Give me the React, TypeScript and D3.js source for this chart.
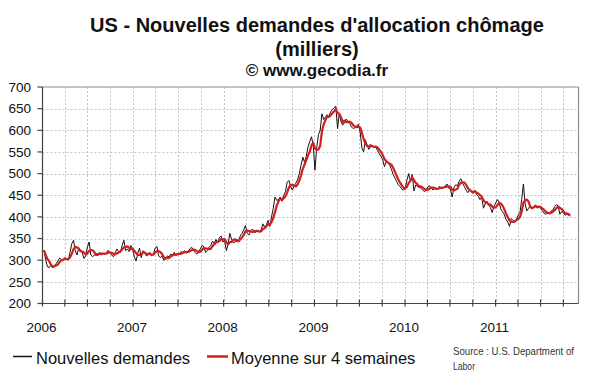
import React from 'react';
import * as d3 from 'd3';

// Weekly initial jobless claims (thousands), week ending Saturdays from 2006-01-07
const claims2006 = [323,300,285,283,290,282,288,292,298,305,302,300,306,303,300,318,338,346,322,312,328,322,318,304,310,330,342,312,308,312,316,314,318,312,316,314,318,323,316,312,308,318,326,320,318,334,346,322,326,320,334,326];
const claims2007 = [308,298,316,328,306,322,316,310,312,318,310,314,328,332,310,306,310,300,302,310,308,314,312,318,310,316,314,320,318,322,316,320,326,330,322,318,314,320,326,334,332,318,322,330,334,344,338,348,340,352,356,342];
const claims2008 = [345,322,338,362,348,340,342,348,345,356,362,370,380,362,358,368,372,366,364,368,366,370,384,376,382,392,378,400,420,446,438,440,446,436,450,458,480,484,470,462,472,478,486,500,520,538,526,540,562,574,585,565];
const claims2009 = [508,560,590,600,638,625,630,636,632,642,648,652,656,604,640,620,612,618,626,620,616,608,604,606,610,614,596,560,550,578,566,556,562,566,562,560,554,546,540,532,516,528,526,520,510,498,490,482,474,470,464,462];
const claims2010 = [466,486,500,482,498,460,474,470,472,466,462,458,462,470,472,466,462,466,464,468,470,466,468,472,476,466,464,446,468,474,472,482,488,478,470,462,456,462,458,454,462,452,448,440,446,420,430,436,428,422,410,424];
const claims2011 = [432,440,434,418,412,406,394,388,378,396,392,390,394,404,410,440,476,430,414,420,426,420,424,428,420,424,418,414,408,406,410,408,414,416,424,428,426,406,412,410,404,406,404,402];

const yTicks = [200, 250, 300, 350, 400, 450, 500, 550, 600, 650, 700];
const yearLabels = ['2006', '2007', '2008', '2009', '2010', '2011'];
const seriesNames = ['Nouvelles demandes', 'Moyenne sur 4 semaines'];
const titleLines = ["US - Nouvelles demandes d'allocation chômage", '(milliers)', '© www.gecodia.fr'];
const sourceLines = ['Source : U.S. Department of', 'Labor'];

type Pt = { date: Date; v: number };

export default function App() {
  const W = 600, H = 372;
  const left = 42.5, right = 578.5, top = 87, bottom = 303.5;
  const x = d3.scaleTime().domain([new Date(2006, 0, 1), new Date(2011, 11, 1)]).range([left, right]);
  const y = d3.scaleLinear().domain([200, 700]).range([bottom, top]);

  const values = ([] as number[]).concat(claims2006, claims2007, claims2008, claims2009, claims2010, claims2011);
  const start = new Date(2006, 0, 7);
  const weekly: Pt[] = values.map((v, i) => ({ date: d3.timeDay.offset(start, 7 * i), v }));
  const avg: Pt[] = weekly.map((d, i) => ({ date: d.date, v: d3.mean(values.slice(Math.max(0, i - 3), i + 1)) as number }));

  const line = d3.line<Pt>().x(d => x(d.date)).y(d => y(d.v));
  const quarters = x.ticks(d3.timeMonth.every(3) as any);
  const font = 'Arial, "Liberation Sans", sans-serif';
  const titleX = 317;

  return (
    <svg width={W} height={H} style={{ position: 'absolute', left: 0, top: 0, background: '#fff' }} fontFamily={font}>
      <rect x={0} y={0} width={W} height={H} fill="#fff" />
      {/* title */}
      <text x={titleX} y={32} textAnchor="middle" fontSize={20} fontWeight="bold" fill="#111">{titleLines[0]}</text>
      <text x={titleX} y={56} textAnchor="middle" fontSize={20} fontWeight="bold" fill="#111">{titleLines[1]}</text>
      <text x={titleX} y={76} textAnchor="middle" fontSize={17} fontWeight="bold" fill="#111">{titleLines[2]}</text>

      {/* grid */}
      {yTicks.filter(t => t > 200 && t < 700).map(t => (
        <line key={'gy' + t} x1={left} x2={right} y1={Math.round(y(t)) + 0.5} y2={Math.round(y(t)) + 0.5}
          stroke="#c4c4c4" strokeDasharray="2,2" strokeWidth={1} />
      ))}
      {quarters.filter((q, i) => i > 0).map(q => (
        <line key={'gx' + q.getTime()} x1={Math.round(x(q)) + 0.5} x2={Math.round(x(q)) + 0.5} y1={top} y2={bottom}
          stroke="#c4c4c4" strokeDasharray="2,2" strokeWidth={1} />
      ))}

      {/* frame */}
      <line x1={left} x2={right} y1={top} y2={top} stroke="#8a8a8a" strokeWidth={1.2} />
      <line x1={right} x2={right} y1={top} y2={bottom} stroke="#8a8a8a" strokeWidth={1.2} />

      {/* axes */}
      <line x1={left} x2={left} y1={top} y2={bottom} stroke="#444" strokeWidth={1.2} />
      <line x1={left} x2={right} y1={bottom} y2={bottom} stroke="#444" strokeWidth={1.2} />
      {yTicks.map(t => (
        <g key={'yt' + t}>
          <line x1={left - 5} x2={left} y1={y(t)} y2={y(t)} stroke="#444" strokeWidth={1.2} />
          <text x={31} y={y(t) + 4.8} textAnchor="end" fontSize={13.5} fill="#111">{t}</text>
        </g>
      ))}
      {quarters.map(q => (
        <line key={'xt' + q.getTime()} x1={x(q)} x2={x(q)} y1={bottom - 4} y2={bottom + 3} stroke="#444" strokeWidth={1.2} />
      ))}
      {yearLabels.map(l => (
        <text key={l} x={x(new Date(+l, 0, 1)) - 1} y={331.5} textAnchor="middle" fontSize={13.5} fill="#111">{l}</text>
      ))}

      {/* series */}
      <path d={line(weekly) || ''} fill="none" stroke="#111" strokeWidth={1} strokeLinejoin="round" />
      <path d={line(avg) || ''} fill="none" stroke="#d41e1e" strokeWidth={2.2} strokeLinejoin="round" />

      {/* legend */}
      <line x1={13} x2={32} y1={356.5} y2={356.5} stroke="#111" strokeWidth={1.5} />
      <text x={36} y={364} fontSize={16.5} fill="#111">{seriesNames[0]}</text>
      <line x1={207} x2={228} y1={356.5} y2={356.5} stroke="#d41e1e" strokeWidth={2.5} />
      <text x={231} y={364} fontSize={16.5} fill="#111">{seriesNames[1]}</text>

      {/* source */}
      <text x={453} y={355} fontSize={10.5} fill="#333" textLength={121} lengthAdjust="spacingAndGlyphs">{sourceLines[0]}</text>
      <text x={453} y={369.5} fontSize={10.5} fill="#333" textLength={22} lengthAdjust="spacingAndGlyphs">{sourceLines[1]}</text>
    </svg>
  );
}
